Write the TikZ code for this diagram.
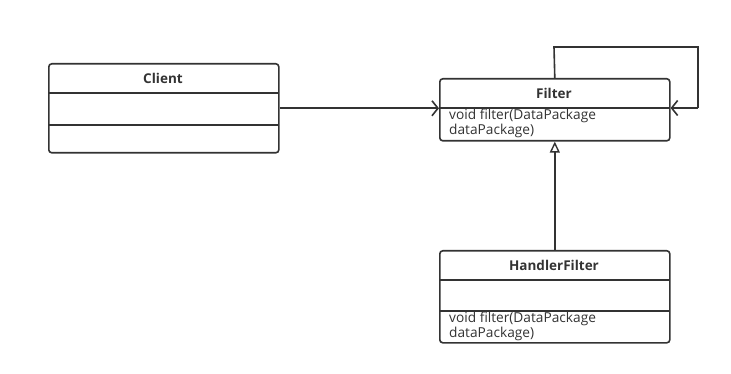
\documentclass[tikz,border=0pt]{standalone}
\usepackage{fontspec}
\setmainfont{Open Sans}
\usetikzlibrary{arrows.meta}
\definecolor{ink}{HTML}{333333}
\begin{document}
\begin{tikzpicture}[x=1pt,y=-1pt,
  umlbox/.style={draw=ink, line width=1.6pt, rounded corners=3pt, minimum width=230pt, inner sep=0pt, anchor=north west},
  divider/.style={draw=ink, line width=1.6pt},
  title/.style={font=\fontsize{13.5}{16}\selectfont\bfseries, text=ink},
  method/.style={font=\fontsize{13.7}{15.5}\selectfont, text=ink, align=left, anchor=north west, inner sep=0pt},
  conn/.style={draw=ink, line width=1.6pt},
  assoc/.style={conn, -{Straight Barb[length=6pt,width=15pt,line width=1.6pt]}},
  inherit/.style={conn, -{Triangle[open,length=11pt,width=10pt,line width=1.4pt]}}
]
\useasboundingbox (0,0) rectangle (731,374);
% Client
\node[umlbox, minimum height=89pt] (client) at (48,63) {};
\draw[divider] (48,93) -- (278,93);
\draw[divider] (48,125) -- (278,125);
\node[title] (clientT) at (163,78) {Client};
% Filter
\node[umlbox, minimum height=62pt] (filter) at (439,78) {};
\draw[divider] (439,108) -- (669,108);
\node[title] (filterT) at (554,93) {Filter};
\node[method] (filterM) at (449,108.5) {void filter(DataPackage\\dataPackage)};
% HandlerFilter
\node[umlbox, minimum height=92pt] (handler) at (439,250) {};
\draw[divider] (439,280) -- (669,280);
\draw[divider] (439,311) -- (669,311);
\node[title] (handlerT) at (554,265) {HandlerFilter};
\node[method] (handlerM) at (449,311.5) {void filter(DataPackage\\dataPackage)};
% connectors
\coordinate (loopA) at (554,47);
\coordinate (loopB) at (698,47);
\coordinate (loopC) at (698,108);
\draw[assoc] (client.east) -- (client.east -| filter.west);
\draw[conn] (filter.north) -- (loopA) -- (loopB) -- (loopC);
\draw[assoc] (loopC) -- (loopC -| filter.east);
\draw[inherit] (handler.north) -- (filter.south);
\end{tikzpicture}
\end{document}
